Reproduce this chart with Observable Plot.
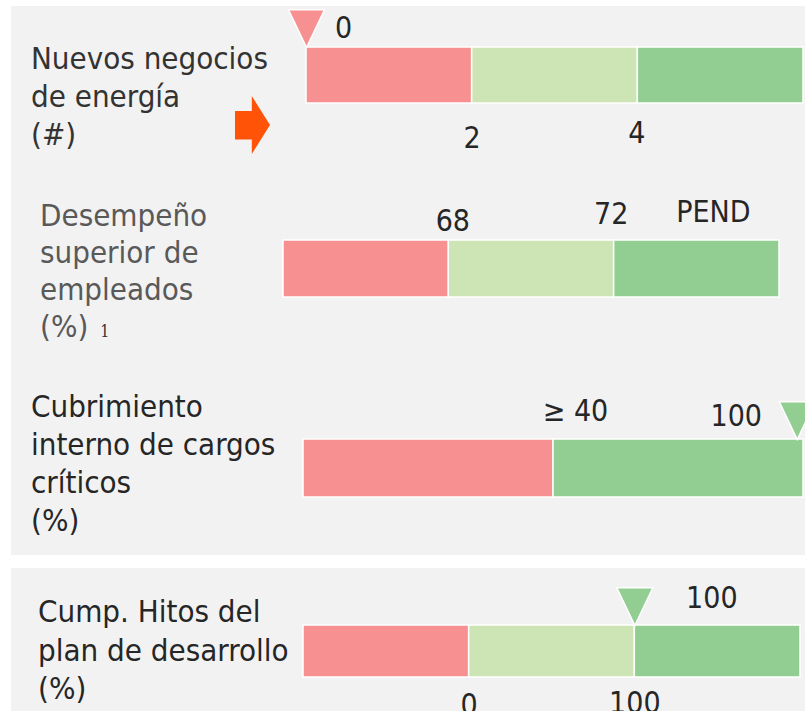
<!DOCTYPE html>
<html><head><meta charset="utf-8">
<script src="https://cdn.jsdelivr.net/npm/d3@7"></script>
<script src="https://cdn.jsdelivr.net/npm/@observablehq/plot@0.6"></script>
<style>
html,body{margin:0;padding:0;background:#fff;}
#root{position:relative;width:805px;height:711px;overflow:hidden;font-family:"DejaVu Sans Condensed","DejaVu Sans",sans-serif;font-stretch:condensed;}
.panel{position:absolute;background:#f2f2f2;}
.title{position:absolute;font-size:31px;white-space:nowrap;}
.chart{position:absolute;left:0;}
.arrow{position:absolute;background:#ff5308;clip-path:polygon(0 26%,48% 26%,48% 0,100% 50%,48% 100%,48% 75%,0 75%);}
.sub{font-family:"DejaVu Serif",serif;font-size:16px;margin-left:12px;color:#333;}
</style></head><body><div id="root"></div>
<script>
// ---- data ----
const titles1 = ["Nuevos negocios", "de energía", "(#)"];
const titles2 = ["Desempeño", "superior de", "empleados", "(%)"];
const titles3 = ["Cubrimiento", "interno de cargos", "críticos", "(%)"];
const titles4 = ["Cump. Hitos del", "plan de desarrollo", "(%)"];

const segments1 = ["rojo", "amarillo", "verde"];
const segments2 = ["rojo", "amarillo", "verde"];
const segments3 = ["rojo", "verde"];
const segments4 = ["rojo", "amarillo", "verde"];

// thresholds at segment boundaries (boundary index), with their labels
const thresholds1 = [{pos: 1, label: "2"}, {pos: 2, label: "4"}];
const thresholds2 = [{pos: 1, label: "68"}, {pos: 2, label: "72"}];
const thresholds3 = [{pos: 1, label: "≥ 40"}];
const thresholds4 = [{pos: 1, label: "0"}, {pos: 2, label: "100"}];

// actual values (marker position in segment units, label, status)
const actual1 = {pos: 0, label: "0", status: "rojo"};
const actual2 = {pos: 2.6, label: "PEND", status: null};
const actual3 = {pos: 1.975, label: "100", status: "verde"};
const actual4 = {pos: 2, label: "100", status: "verde"};

// ---- styles ----
const colorDomain = ["rojo", "amarillo", "verde"];
const colorRange = ["#f79191", "#cde4b4", "#92ce92"];
const textColor = "#262626";
const FONT = "font-family:'DejaVu Sans Condensed','DejaVu Sans',sans-serif;font-stretch:condensed;";

const downTriangle = {
  draw(ctx, size) {
    const r = Math.sqrt(size / Math.PI);
    ctx.moveTo(0, 0);
    ctx.lineTo(-r, -2.1 * r);
    ctx.lineTo(r, -2.1 * r);
    ctx.closePath();
  }
};

const root = document.getElementById("root");
function addDiv(cls, css, html) {
  const d = document.createElement("div");
  d.className = cls;
  d.style.cssText = css;
  if (html != null) d.innerHTML = html;
  root.appendChild(d);
  return d;
}

addDiv("panel", "left:11px;top:6px;width:794px;height:549px;");
addDiv("panel", "left:11px;top:568px;width:794px;height:143px;");

function title(lines, left, top, lh, color, extraLast) {
  const html = lines.map((l, i) => l + (i === lines.length - 1 && extraLast ? extraLast : "")).join("<br>");
  addDiv("title", `left:${left}px;top:${top}px;line-height:${lh}px;color:${color};`, html);
}
title(titles1, 31, 39, 38, "#333333");
title(titles2, 40, 197, 37, "#595959", '<span class="sub">1</span>');
title(titles3, 31, 387, 38, textColor);
title(titles4, 38, 592, 38.5, textColor);

addDiv("arrow", "left:235px;top:96px;width:35px;height:58px;");

function bullet(cfg) {
  const {segments, thresholds, actual, top, height, mt, mb, ml, mr, thrAnchor, thrOffsets, actOffset} = cfg;
  const marks = [
    Plot.barX(segments, {x1: (d, i) => i, x2: (d, i) => i + 1, fill: d => d, stroke: "white", strokeWidth: 1.5})
  ];
  thresholds.forEach((t, i) => {
    marks.push(Plot.text([t], {x: "pos", text: "label", frameAnchor: thrAnchor, lineAnchor: "middle",
      dx: thrOffsets[i][0], dy: thrOffsets[i][1], fontSize: 30, fill: textColor}));
  });
  if (actual.status) {
    marks.push(Plot.dot([actual], {x: "pos", frameAnchor: "top", symbol: downTriangle, r: 18,
      fill: colorRange[colorDomain.indexOf(actual.status)], stroke: "white", strokeWidth: 1.5}));
  }
  marks.push(Plot.text([actual], {x: "pos", text: "label", frameAnchor: "top", lineAnchor: "middle",
    dx: actOffset[0], dy: actOffset[1], fontSize: 30, fill: textColor}));
  const svg = Plot.plot({
    width: 805, height,
    marginTop: mt, marginBottom: mb, marginLeft: ml, marginRight: mr,
    x: {domain: [0, segments.length], axis: null},
    color: {domain: colorDomain, range: colorRange},
    style: "background:none;overflow:visible;" + FONT,
    marks
  });
  const wrap = addDiv("chart", `top:${top}px;`);
  wrap.appendChild(svg);
}

bullet({segments: segments1, thresholds: thresholds1, actual: actual1,
  top: 0, height: 160, mt: 47, mb: 57, ml: 306, mr: 2,
  thrAnchor: "bottom", thrOffsets: [[0, 35], [-1, 30]], actOffset: [37, -19]});
bullet({segments: segments2, thresholds: thresholds2, actual: actual2,
  top: 180, height: 160, mt: 60, mb: 43, ml: 283, mr: 26,
  thrAnchor: "top", thrOffsets: [[4, -19], [-3, -26]], actOffset: [0, -28]});
bullet({segments: segments3, thresholds: thresholds3, actual: actual3,
  top: 380, height: 150, mt: 59, mb: 33, ml: 303, mr: 2,
  thrAnchor: "top", thrOffsets: [[22, -28]], actOffset: [-61, -23]});
bullet({segments: segments4, thresholds: thresholds4, actual: actual4,
  top: 570, height: 141, mt: 55, mb: 34, ml: 303, mr: 5,
  thrAnchor: "bottom", thrOffsets: [[0, 28], [0, 26]], actOffset: [77, -27]});
</script></body></html>
